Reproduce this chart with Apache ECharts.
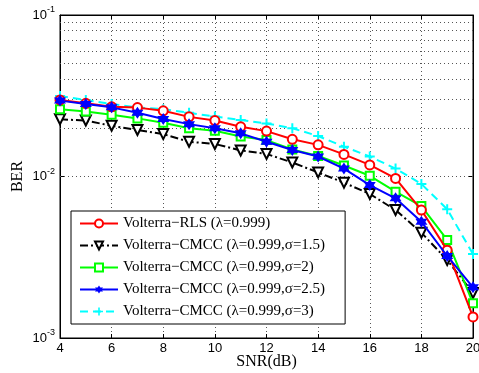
<!DOCTYPE html>
<html><head><meta charset="utf-8">
<script src="https://cdn.jsdelivr.net/npm/echarts@6/dist/echarts.min.js"></script>
<style>html,body{margin:0;padding:0;background:#fff}#c{width:479px;height:373px}</style>
</head><body><div id="c"></div>
<script>
var snr = [4,5,6,7,8,9,10,11,12,13,14,15,16,17,18,19,20];
var rls    = [0.0298,0.0284,0.0270,0.0267,0.0255,0.0234,0.0222,0.0203,0.0191,0.0170,0.0157,0.0137,0.0118,0.00973,0.0062,0.0035,0.00135];
var cmcc15 = [0.0226,0.0222,0.0206,0.0194,0.0183,0.0164,0.0159,0.0145,0.0138,0.0122,0.0106,0.00916,0.0078,0.0062,0.00449,0.00304,0.0019];
var cmcc2  = [0.0261,0.0253,0.0241,0.0229,0.0215,0.0199,0.0192,0.0177,0.0168,0.0147,0.0134,0.0117,0.0101,0.00806,0.00656,0.00405,0.00164];
var cmcc25 = [0.0295,0.0281,0.0268,0.0248,0.0227,0.0211,0.0199,0.0185,0.0164,0.0146,0.0133,0.0112,0.00885,0.00733,0.00525,0.00322,0.00206];
var cmcc3  = [0.0315,0.0298,0.0281,0.0268,0.0261,0.0248,0.0235,0.0224,0.0213,0.0199,0.0178,0.0153,0.0133,0.0112,0.0090,0.00627,0.00331];
var names = ['Volterra\u2212RLS (\u03bb=0.999)',
             'Volterra\u2212CMCC (\u03bb=0.999,\u03c3=1.5)',
             'Volterra\u2212CMCC (\u03bb=0.999,\u03c3=2)',
             'Volterra\u2212CMCC (\u03bb=0.999,\u03c3=2.5)',
             'Volterra\u2212CMCC (\u03bb=0.999,\u03c3=3)'];
var yMinorGrid = [0.002,0.003,0.004,0.005,0.006,0.007,0.008,0.009,0.02,0.03,0.04,0.05,0.06,0.07,0.08,0.09];

function pairs(ys){ return snr.map(function(x,i){ return [x, ys[i]]; }); }

var gridDot = {color:'#555', width:1, type:[1,3]};
var hexagram = 'path://M0,-10 L2.89,-5 L8.66,-5 L5.77,0 L8.66,5 L2.89,5 L0,10 L-2.89,5 L-8.66,5 L-5.77,0 L-8.66,-5 L-2.89,-5 Z';
var plus = 'path://M-1.2,-6 L1.2,-6 L1.2,-1.2 L6,-1.2 L6,1.2 L1.2,1.2 L1.2,6 L-1.2,6 L-1.2,1.2 L-6,1.2 L-6,-1.2 L-1.2,-1.2 Z';

var chart = echarts.init(document.getElementById('c'), null, {renderer:'canvas'});
chart.setOption({
  animation:false,
  backgroundColor:'#fff',
  grid:{left:60, right:6, top:15, bottom:35, show:true, borderColor:'#000', borderWidth:1,
        containLabel:false, outerBoundsMode:'none'},
  xAxis:[{
    type:'value', min:4, max:20, interval:2,
    axisLine:{show:true, lineStyle:{color:'#000'}},
    axisTick:{inside:true, length:4, lineStyle:{color:'#000'}},
    axisLabel:{color:'#000', fontFamily:'Liberation Sans', fontSize:13, margin:4},
    splitLine:{show:true, lineStyle:gridDot},
    name:'SNR(dB)', nameLocation:'middle', nameGap:24, nameMoveOverlap:false,
    nameTextStyle:{fontFamily:'Liberation Serif', fontSize:16, color:'#000', verticalAlign:'middle'}
  },{
    type:'value', min:4, max:20, interval:2, position:'top',
    axisLine:{show:true, lineStyle:{color:'#000'}},
    axisTick:{inside:true, length:4, lineStyle:{color:'#000'}},
    axisLabel:{show:false}, splitLine:{show:false}
  }],
  yAxis:[{
    type:'log', logBase:10, min:0.001, max:0.1,
    axisLine:{show:true, lineStyle:{color:'#000'}},
    axisTick:{inside:true, length:4, lineStyle:{color:'#000'}},
    axisLabel:{color:'#000', margin:5,
      formatter:function(v){ var e=Math.round(Math.log10(v)); return '{b|10}{s|'+e+'}'; },
      rich:{b:{fontFamily:'Liberation Sans', fontSize:13, color:'#000'},
            s:{fontFamily:'Liberation Sans', fontSize:9, color:'#000', padding:[0,0,10,0]}}},
    splitLine:{show:true, lineStyle:gridDot},
    name:'BER', nameLocation:'middle', nameGap:42, nameMoveOverlap:false,
    nameTextStyle:{fontFamily:'Liberation Serif', fontSize:16, color:'#000', verticalAlign:'middle'}
  },{
    type:'log', logBase:10, min:0.001, max:0.1, position:'right',
    axisLine:{show:true, lineStyle:{color:'#000'}},
    axisTick:{inside:true, length:4, lineStyle:{color:'#000'}},
    axisLabel:{show:false}, splitLine:{show:false}
  }],
  legend:{
    orient:'vertical', left:71, top:211,
    backgroundColor:'#fff', borderColor:'#000', borderWidth:1,
    padding:[5,20,5,8], itemGap:7, itemWidth:38, itemHeight:10,
    textStyle:{fontFamily:'Liberation Serif', fontSize:15, color:'#000'},
    data:names
  },
  series:[
    {name:names[0], type:'line', data:pairs(rls), color:'#ff0000',
     symbol:'emptyCircle', symbolSize:9, lineStyle:{width:2, color:'#ff0000'},
     itemStyle:{color:'#ff0000', borderWidth:1.5}, z:5,
     markLine:{silent:true, symbol:'none', label:{show:false}, lineStyle:gridDot, z:1,
       data:yMinorGrid.map(function(v){return {yAxis:v};})}},
    {name:names[1], type:'line', data:pairs(cmcc15), color:'#000000',
     symbol:'emptyTriangle', symbolRotate:180, symbolSize:10,
     lineStyle:{width:2, color:'#000', type:[8,3,2,3]},
     itemStyle:{color:'#000', borderWidth:1.8}, z:3},
    {name:names[2], type:'line', data:pairs(cmcc2), color:'#00ff00',
     symbol:'emptyRect', symbolSize:8, lineStyle:{width:2, color:'#00ff00'},
     itemStyle:{color:'#00ff00', borderWidth:1.5}, z:4},
    {name:names[3], type:'line', data:pairs(cmcc25), color:'#0000ff',
     symbol:hexagram, symbolSize:12, lineStyle:{width:2, color:'#0000ff'},
     itemStyle:{color:'#0000ff'}, z:6},
    {name:names[4], type:'line', data:pairs(cmcc3), color:'#00ffff',
     symbol:plus, symbolSize:10, lineStyle:{width:2, color:'#00ffff', type:[8,5]},
     itemStyle:{color:'#00ffff'}, z:2}
  ]
});
</script></body></html>
